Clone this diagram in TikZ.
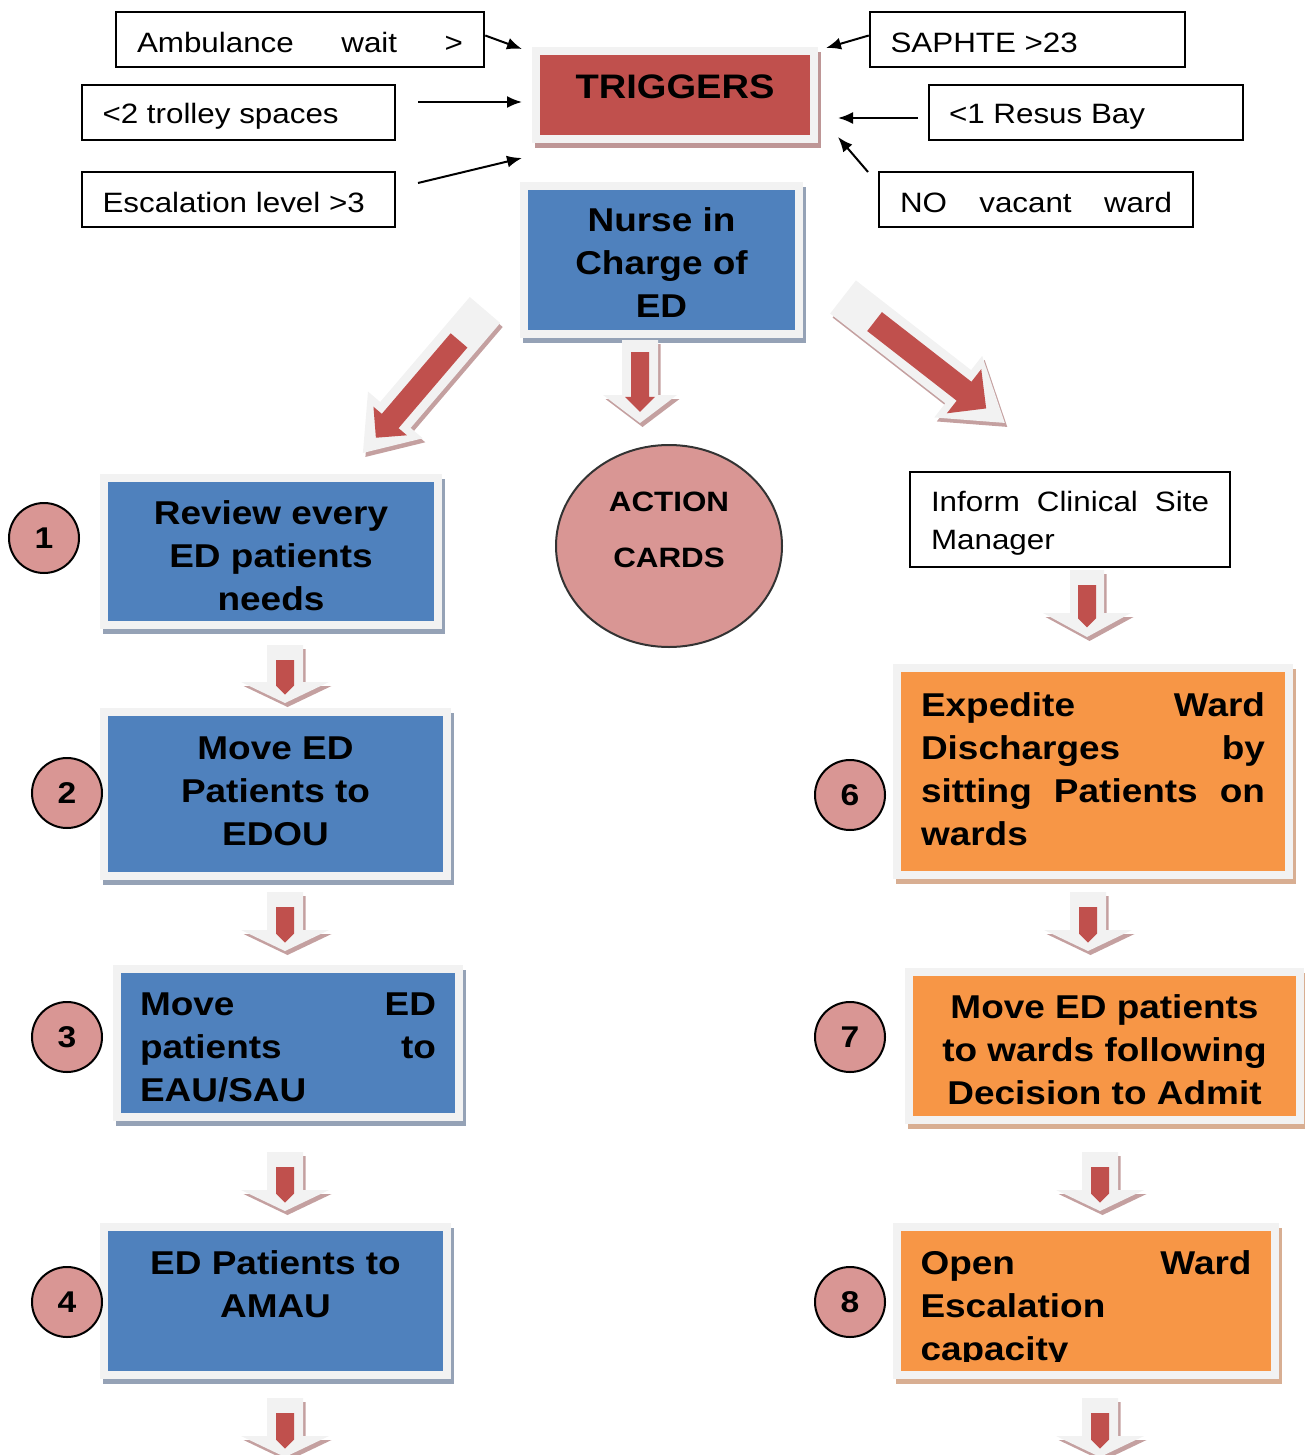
\documentclass[tikz,border=0pt]{standalone}
\usepackage{fontspec}
\setmainfont{Liberation Sans}[FakeStretch=1.12]
\usetikzlibrary{backgrounds,shapes.geometric,arrows.meta}
\definecolor{trred}{HTML}{C0504D}
\definecolor{boxblue}{HTML}{4F81BD}
\definecolor{boxorange}{HTML}{F79646}
\definecolor{framegray}{HTML}{F2F2F2}
\definecolor{pinkc}{HTML}{D99694}
\definecolor{shred}{HTML}{BE9696}
\definecolor{shblue}{HTML}{95A2B6}
\definecolor{shor}{HTML}{D8AE92}
\definecolor{arrshadow}{HTML}{C4A0A0}
\newcommand\blockarr[9]{%
 \begin{scope}[shift={#1},shift={(2.5,4)},rotate=#2]
  \fill[arrshadow] (0,-#4) -- ({#3-#6},-#4) -- ({#3-#6},-#5) -- (#3,0) -- ({#3-#6},#5) -- ({#3-#6},#4) -- (0,#4) -- cycle;
 \end{scope}
 \begin{scope}[shift={#1},rotate=#2]
  \fill[framegray] (0,-#4) -- ({#3-#6},-#4) -- ({#3-#6},-#5) -- (#3,0) -- ({#3-#6},#5) -- ({#3-#6},#4) -- (0,#4) -- cycle;
  \fill[trred] (#7,-#8) -- ({#3-0.4*#6-#9},-#8) -- ({#3-0.4*#6-#9},-#9) -- ({#3-0.4*#6},0) -- ({#3-0.4*#6-#9},#9) -- ({#3-0.4*#6-#9},#8) -- (#7,#8) -- cycle;
 \end{scope}}
\newcommand\ctext[3]{\raisebox{#1}[\height][\depth]{\parbox[c]{#2}{\centering #3}}}
\newcommand\ltext[3]{\raisebox{#1}[\height][\depth]{\parbox[c]{#2}{#3}}}
\newcommand\jline[2]{\makebox[#1][l]{#2}}
\tikzset{
 trig/.style={draw=black, line width=2.5pt, fill=white, inner sep=0pt, minimum height=55pt, font=\fontsize{28}{38}\selectfont},
 conn/.style={-{Latex[length=15pt,width=12pt]}, line width=2pt},
 fbox/.style={line width=8pt, draw=framegray, inner sep=0pt, font=\bfseries\fontsize{33}{43}\selectfont},
 bluebox/.style={fbox, fill=boxblue},
 orbox/.style={fbox, fill=boxorange},
 numc/.style={circle, draw=black, line width=2pt, fill=pinkc, minimum size=70pt, inner sep=0pt, font=\bfseries\fontsize{30}{36}\selectfont},
}
\begin{document}
\begin{tikzpicture}[x=1pt,y=-1pt]
\useasboundingbox (0,0) rectangle (1304,1455);
% trigger boxes
\node[trig, minimum width=368pt] (amb) at (300,39.5) {\ltext{-3pt}{326pt}{\jline{326pt}{Ambulance\hfill wait\hfill >}}};
\node[trig, minimum width=313pt] (trol) at (238.5,112.5) {\ltext{-4pt}{272pt}{<2 trolley spaces}};
\node[trig, minimum width=313pt] (esc) at (238.5,199.5) {\ltext{-3pt}{272pt}{Escalation level >3}};
\node[trig, minimum width=315pt] (sap) at (1027.5,39.5) {\ltext{-3pt}{274pt}{SAPHTE >23}};
\node[trig, minimum width=314pt] (res) at (1086,112.5) {\ltext{-4pt}{274pt}{<1 Resus Bay}};
\node[trig, minimum width=314pt] (nov) at (1036,199.5) {\ltext{-3pt}{272pt}{\jline{272pt}{NO\hfill vacant\hfill ward}}};
% triggers
\node[fbox, fill=trred, minimum width=278pt, minimum height=88pt, font=\bfseries\fontsize{34}{40}\selectfont] (trg) at (675,95) {\raisebox{8pt}[\height][\depth]{TRIGGERS}};
% nurse
\node[bluebox, minimum width=275pt, minimum height=148pt] (nur) at (661.5,260) {\ctext{-3pt}{260pt}{Nurse in\\Charge of\\ED}};
% connectors
\coordinate (tA) at (522,49);
\coordinate (sB) at (418,102);
\coordinate (tB) at (522,102);
\coordinate (sC) at (418,183);
\coordinate (tC) at (522,158);
\coordinate (tD) at (826,48);
\coordinate (sE) at (918,118);
\coordinate (tE) at (838,118);
\coordinate (sF) at (868,172);
\coordinate (tF) at (838,137);
\draw[conn] ([yshift=4pt]amb.east) -- (tA);
\draw[conn] (sB) -- (tB);
\draw[conn] (sC) -- (tC);
\draw[conn] ([yshift=4pt]sap.west) -- (tD);
\draw[conn] (sE) -- (tE);
\draw[conn] (sF) -- (tF);
% block arrows
\blockarr{(485,310)}{229.5}{188}{20}{36}{50}{40}{11}{22}
\blockarr{(640,340)}{-90}{83}{18}{37}{28}{12}{9}{15}
\blockarr{(843,297)}{-37.9}{205}{21}{39}{59}{40}{12}{28}
\blockarr{(285,645)}{-90}{58}{18}{44}{21}{15}{9}{9}
\blockarr{(285,892)}{-90}{59}{18}{44}{21}{15}{9}{9}
\blockarr{(285,1152)}{-90}{59}{18}{44}{21}{15}{9}{9}
\blockarr{(285,1398)}{-90}{59}{18}{44}{21}{15}{9}{9}
\blockarr{(1087,570)}{-90}{67}{17}{44}{24}{15}{9}{9}
\blockarr{(1088,892)}{-90}{59}{18}{44}{21}{15}{9}{9}
\blockarr{(1100,1152)}{-90}{59}{18}{44}{21}{15}{9}{9}
\blockarr{(1100,1398)}{-90}{59}{18}{44}{21}{15}{9}{9}
% action cards
\node[ellipse, draw=black!80, line width=2pt, fill=pinkc, minimum width=226pt, minimum height=202pt, inner sep=0pt, font=\bfseries\fontsize{28}{56}\selectfont] (act) at (669,546) {\ctext{16pt}{150pt}{ACTION\\CARDS}};
% inform
\node[trig, minimum width=320pt, minimum height=95pt] (inf) at (1070,519.5) {\ltext{-4pt}{278pt}{\jline{278pt}{Inform\hfill Clinical\hfill Site}\\Manager}};
% left boxes
\node[bluebox, minimum width=334pt, minimum height=147pt] (b1) at (271,551.5) {\ctext{-4pt}{320pt}{Review every\\ED patients\\needs}};
\node[bluebox, minimum width=343pt, minimum height=164pt] (b2) at (275.5,794) {\ctext{3pt}{330pt}{Move ED\\Patients to\\EDOU}};
\node[bluebox, minimum width=342pt, minimum height=148pt] (b3) at (288,1043) {\ltext{-4pt}{296pt}{\jline{296pt}{Move\hfill ED}\\\jline{296pt}{patients\hfill to}\\EAU/SAU}};
\node[bluebox, minimum width=343pt, minimum height=148pt] (b4) at (275.5,1301) {\ctext{-5pt}{330pt}{ED Patients to\\AMAU\\\mbox{}}};
% right boxes
\node[orbox, minimum width=392pt, minimum height=207pt] (b6) at (1093,771.5) {\ltext{2pt}{344pt}{\jline{344pt}{Expedite\hfill Ward}\\\jline{344pt}{Discharges\hfill by}\\\jline{344pt}{sitting\hfill Patients\hfill on}\\wards}};
\node[orbox, minimum width=391pt, minimum height=148pt] (b7) at (1104.5,1046) {\ctext{-4pt}{380pt}{Move ED patients\\to wards following\\Decision to Admit}};
\node[orbox, minimum width=378pt, minimum height=148pt] (b8) at (1086,1301) {\ltext{-8pt}{331pt}{\jline{331pt}{Open\hfill Ward}\\Escalation\\capacity}};
\fill[boxorange] (901,1362) rectangle (1271,1371);
% number circles
\node[numc] (n1) at (44,538) {1};
\node[numc] (n2) at (67,793) {2};
\node[numc] (n3) at (67,1037) {3};
\node[numc] (n4) at (67,1302) {4};
\node[numc] (n6) at (850,795) {6};
\node[numc] (n7) at (850,1037) {7};
\node[numc] (n8) at (850,1302) {8};
% shadows
\begin{pgfonlayer}{background}
\fill[shred] ([shift={(3,5)}]trg.north west) rectangle ([shift={(3,5)}]trg.south east);
\foreach \n in {nur,b1,b2,b3,b4}
  \fill[shblue] ([shift={(3,5)}]\n.north west) rectangle ([shift={(3,5)}]\n.south east);
\foreach \n in {b6,b7,b8}
  \fill[shor] ([shift={(3,5)}]\n.north west) rectangle ([shift={(3,5)}]\n.south east);
\end{pgfonlayer}
\end{tikzpicture}
\end{document}
